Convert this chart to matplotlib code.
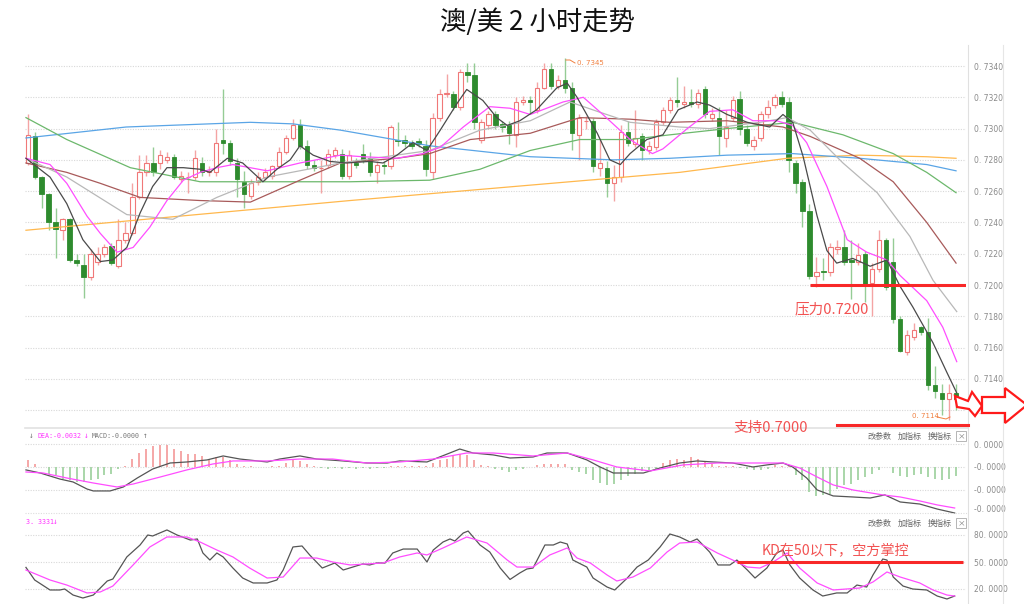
import matplotlib
matplotlib.use("Agg")
import matplotlib.pyplot as plt
from matplotlib.patches import Rectangle, Polygon

plt.rcParams['font.family'] = ['Noto Sans CJK SC', 'DejaVu Sans']

# ---------------- data ----------------
title = "澳/美 2 小时走势"

# candles: open, high, low, close (2-hour bars, index 0..133)
opens = [0.7278,0.7295,0.7269,0.7258,0.7240,0.7235,0.7242,0.7216,0.7213,0.7205,
         0.7215,0.7220,0.7225,0.7212,0.7229,0.7233,0.7256,0.7272,0.7278,0.7278,
         0.7280,0.7282,0.7268,0.7269,0.7269,0.7278,0.7272,0.7272,0.7293,0.7291,
         0.7278,0.7266,0.7257,0.7266,0.7269,0.7270,0.7276,0.7285,0.7294,0.7302,
         0.7289,0.7277,0.7275,0.7277,0.7283,0.7284,0.7270,0.7278,0.7284,0.7281,
         0.7272,0.7277,0.7276,0.7293,0.7293,0.7291,0.7292,0.7289,0.7272,0.7307,
         0.7322,0.7322,0.7314,0.7336,0.7334,0.7293,0.7302,0.7309,0.7303,0.7302,
         0.7296,0.7317,0.7318,0.7312,0.7326,0.7338,0.7327,0.7331,0.7326,0.7296,
         0.7305,0.7305,0.7275,0.7275,0.7265,0.7269,0.7298,0.7290,0.7295,0.7286,
         0.7288,0.7304,0.7312,0.7318,0.7316,0.7317,0.7316,0.7325,0.7307,0.7307,
         0.7294,0.7307,0.7319,0.7300,0.7289,0.7294,0.7309,0.7315,0.7320,0.7317,
         0.7278,0.7266,0.7247,0.7206,0.7209,0.7208,0.7223,0.7224,0.7216,0.7215,
         0.7220,0.7201,0.7210,0.7229,0.7215,0.7178,0.7157,0.7167,0.7173,0.7170,
         0.7136,0.7131,0.7127,0.7131]
highs = [0.7309,0.7298,0.7270,0.7259,0.7249,0.7243,0.7243,0.7220,0.7220,0.7223,
         0.7224,0.7226,0.7227,0.7242,0.7240,0.7265,0.7283,0.7283,0.7288,0.7286,
         0.7285,0.7284,0.7273,0.7272,0.7286,0.7282,0.7276,0.7300,0.7325,0.7293,
         0.7281,0.7273,0.7268,0.7272,0.7275,0.7277,0.7288,0.7296,0.7306,0.7306,
         0.7293,0.7280,0.7280,0.7287,0.7288,0.7287,0.7286,0.7281,0.7290,0.7285,
         0.7279,0.7279,0.7302,0.7304,0.7296,0.7293,0.7294,0.7293,0.7310,0.7325,
         0.7335,0.7324,0.7338,0.7342,0.7342,0.7306,0.7311,0.7311,0.7305,0.7305,
         0.7320,0.7321,0.7321,0.7330,0.7342,0.7342,0.7334,0.7345,0.7330,0.7309,
         0.7308,0.7307,0.7293,0.7279,0.7277,0.7302,0.7305,0.7312,0.7297,0.7292,
         0.7306,0.7314,0.7320,0.7333,0.7327,0.7325,0.7325,0.7327,0.7313,0.7314,
         0.7312,0.7321,0.7324,0.7302,0.7295,0.7311,0.7318,0.7322,0.7324,0.7320,
         0.7280,0.7268,0.7252,0.7218,0.7217,0.7227,0.7229,0.7235,0.7229,0.7227,
         0.7222,0.7214,0.7235,0.7230,0.7230,0.7180,0.7171,0.7176,0.7174,0.7179,
         0.7148,0.7137,0.7137,0.7137]
lows = [0.7277,0.7268,0.7249,0.7235,0.7217,0.7229,0.7215,0.7212,0.7192,0.7203,
        0.7213,0.7218,0.7213,0.7211,0.7227,0.7232,0.7255,0.7270,0.7270,0.7274,
        0.7278,0.7268,0.7266,0.7259,0.7267,0.7270,0.7270,0.7270,0.7284,0.7277,
        0.7256,0.7249,0.7255,0.7264,0.7267,0.7268,0.7275,0.7284,0.7293,0.7287,
        0.7274,0.7273,0.7259,0.7275,0.7281,0.7268,0.7268,0.7275,0.7278,0.7270,
        0.7265,0.7271,0.7274,0.7289,0.7288,0.7287,0.7288,0.7270,0.7268,0.7305,
        0.7320,0.7312,0.7312,0.7330,0.7300,0.7291,0.7300,0.7300,0.7298,0.7290,
        0.7288,0.7315,0.7310,0.7310,0.7325,0.7325,0.7325,0.7323,0.7286,0.7280,
        0.7300,0.7272,0.7270,0.7256,0.7254,0.7266,0.7289,0.7288,0.7280,0.7284,
        0.7286,0.7302,0.7310,0.7314,0.7313,0.7314,0.7313,0.7307,0.7305,0.7283,
        0.7288,0.7305,0.7296,0.7289,0.7286,0.7292,0.7307,0.7313,0.7314,0.7272,
        0.7259,0.7237,0.7204,0.7199,0.7203,0.7206,0.7220,0.7213,0.7191,0.7213,
        0.7189,0.7180,0.7208,0.7197,0.7176,0.7157,0.7155,0.7165,0.7168,0.7133,
        0.7128,0.7117,0.7114,0.7120]
closes = [0.7296,0.7269,0.7258,0.7240,0.7236,0.7242,0.7216,0.7214,0.7205,0.7220,
          0.7220,0.7224,0.7214,0.7229,0.7233,0.7256,0.7272,0.7278,0.7272,0.7283,
          0.7282,0.7269,0.7270,0.7269,0.7281,0.7272,0.7273,0.7291,0.7291,0.7279,
          0.7268,0.7258,0.7265,0.7269,0.7272,0.7276,0.7285,0.7294,0.7302,0.7289,
          0.7277,0.7275,0.7275,0.7284,0.7286,0.7270,0.7283,0.7277,0.7280,0.7272,
          0.7277,0.7276,0.7301,0.7292,0.7291,0.7289,0.7290,0.7274,0.7307,0.7322,
          0.7323,0.7314,0.7336,0.7334,0.7304,0.7304,0.7309,0.7302,0.7301,0.7297,
          0.7317,0.7318,0.7317,0.7326,0.7338,0.7327,0.7331,0.7326,0.7297,0.7307,
          0.7305,0.7276,0.7278,0.7265,0.7269,0.7298,0.7291,0.7294,0.7286,0.7289,
          0.7304,0.7312,0.7318,0.7317,0.7317,0.7316,0.7323,0.7309,0.7309,0.7295,
          0.7301,0.7318,0.7300,0.7291,0.7293,0.7309,0.7314,0.7320,0.7316,0.7280,
          0.7265,0.7247,0.7206,0.7208,0.7208,0.7224,0.7224,0.7215,0.7215,0.7219,
          0.7200,0.7210,0.7229,0.7199,0.7178,0.7158,0.7168,0.7171,0.7170,0.7136,
          0.7132,0.7127,0.7131,0.7127]

# moving averages: (bar index, price)
ma5 = [(-0.25,0.7281),(3.2,0.7269),(5.6,0.7252),(7.9,0.7229),(10.4,0.7215),(12.2,0.7216),
       (14.2,0.7224),(16.1,0.7246),(17.9,0.7263),(19.95,0.7275),(22.3,0.7275),(24.7,0.7274),
       (26.1,0.7272),(28.6,0.7281),(30.8,0.7278),(33.7,0.7266),(35.7,0.7274),(37.6,0.7280),
       (39,0.7289),(40.9,0.7283),(43.3,0.7279),(45.7,0.7278),(49,0.7279),(50.9,0.7278),
       (52.9,0.7283),(55.2,0.7291),(57.2,0.7286),(59.1,0.7299),(61.5,0.7316),(62.9,0.7325),
       (65.2,0.7318),(67.2,0.7307),(68.7,0.7302),(70.5,0.7305),(72.9,0.7312),(75.8,0.7326),
       (77.3,0.7329),(78.7,0.7320),(81.6,0.7297),(83.4,0.7280),(84.9,0.7277),(86.3,0.7284),
       (88.7,0.7293),(91,0.7296),(93.2,0.7312),(95.9,0.7317),(97.7,0.7315),(100.2,0.7309),
       (103.1,0.7304),(106.3,0.7301),(108.2,0.7309),(109.6,0.7304),(111.1,0.7282),(113.1,0.7244),
       (114.5,0.7222),(115.9,0.7214),(118.2,0.7217),(120.7,0.7212),(123.1,0.7216),(125,0.7199),
       (126.8,0.7186),(129.7,0.7163),(131.7,0.7144),(133.1,0.7131)]
ma10 = [(-0.25,0.7281),(3.2,0.7277),(5.6,0.7265),(8.5,0.7244),(10.4,0.7233),(12.8,0.7221),
        (15.1,0.7224),(17.5,0.7237),(19.95,0.7254),(22.3,0.7267),(24.7,0.7272),(27.1,0.7275),
        (29.4,0.7277),(34.3,0.7273),(39,0.7278),(44.8,0.7283),(48,0.7282),(52.9,0.7281),
        (56.6,0.7284),(59.1,0.7288),(62.4,0.7301),(66.2,0.7314),(69.1,0.7313),(72,0.7309),
        (76.7,0.7317),(79.6,0.7320),(82.4,0.7309),(86.3,0.7293),(89.5,0.7284),(91,0.7287),
        (94.5,0.7300),(97.7,0.7311),(101,0.7312),(103.9,0.7305),(107.3,0.7305),(109.6,0.7302),
        (111.6,0.7291),(114.5,0.7263),(117.4,0.7229),(120.2,0.7221),(123.1,0.7216),(125,0.7206),
        (128.8,0.7190),(131.1,0.7173),(133.1,0.7151)]
ma20 = [(-0.25,0.7281),(5.6,0.7269),(14.2,0.7245),(20.8,0.7242),(27.1,0.7256),(34.3,0.7269),
        (44.8,0.7278),(57.6,0.7286),(64.8,0.7299),(72,0.7305),(77.7,0.7317),(81.6,0.7311),
        (86.3,0.7304),(93.4,0.7301),(97.7,0.7300),(104.9,0.7304),(108.8,0.7307),(112.1,0.7299),
        (116.8,0.7278),(121.7,0.7259),(126.4,0.7231),(129.7,0.7203),(133.1,0.7183)]
ma30 = [(-0.25,0.7278),(5.6,0.7272),(10.4,0.7265),(16.1,0.7256),(24.7,0.7254),(31.9,0.7253),
        (39,0.7267),(44.8,0.7278),(52.9,0.7281),(57.6,0.7284),(63.4,0.7293),(72,0.7297),
        (79.1,0.7307),(86.3,0.7306),(92,0.7304),(100.2,0.7305),(108.2,0.7301),(112.1,0.7295),
        (119.2,0.7281),(124,0.7266),(128.8,0.7240),(133,0.7214)]
ma60 = [(-0.25,0.7307),(5.6,0.7293),(14.7,0.7275),(24.7,0.7266),(46.2,0.7266),(57.6,0.7267),
        (64.8,0.7274),(72,0.7286),(79.1,0.7293),(86.3,0.7293),(92,0.7296),(100.2,0.7300),
        (109.6,0.7304),(116.8,0.7296),(124,0.7284),(128.8,0.7272),(133,0.7259)]
ma120 = [(-0.25,0.7294),(14.1,0.7301),(31.9,0.7304),(38,0.7303),(44.8,0.7299),(57.6,0.7289),
         (72,0.7282),(83.9,0.7280),(92,0.7281),(100.2,0.7283),(109.6,0.7284),(119.2,0.7281),
         (128.8,0.7277),(133,0.7273)]
ma250 = [(-0.25,0.7235),(46.2,0.7254),(93.4,0.7272),(108.8,0.7281),(119.2,0.7283),
         (128.8,0.7282),(133,0.7281)]

# MACD (units of 1e-4)
macd_hist = [5.5,2.7,0.0,-5.1,-6.2,-9.0,-10.1,-11.7,-11.7,-10.1,
             -9.0,-6.0,-5.1,-1.2,0.8,5.9,10.9,14.4,16.0,16.8,
             16.8,14.4,12.5,10.5,10.5,8.2,6.2,7.8,7.8,5.5,
             2.7,0.8,0.4,-0.4,-0.4,0.4,0.8,3.1,5.9,4.7,
             2.3,0.8,-0.8,-1.2,-0.8,-1.2,-0.8,-1.2,-0.8,-1.2,
             -0.8,-0.8,0.4,0.8,0.8,0.8,0.8,0.8,3.1,5.1,
             5.9,8.2,10.5,9.4,5.1,1.6,0.4,-1.2,-2.0,-3.9,
             -2.7,-1.2,-0.4,1.2,2.7,2.7,2.7,2.0,-2.0,-3.9,
             -5.1,-10.1,-12.5,-14.0,-12.9,-9.8,-7.0,-5.1,-3.5,-2.7,
             -2.0,3.1,5.1,5.9,5.1,7.4,6.6,3.9,2.7,0.8,
             0.8,0.4,-0.8,-1.2,-2.7,-2.0,-1.2,1.2,0.8,0.4,
             -6.2,-10.1,-19.5,-22.6,-21.8,-20.7,-16.8,-14.0,-12.9,-9.8,
             -7.8,-5.1,-2.0,-0.4,-4.7,-7.0,-7.8,-6.2,-5.1,-7.8,
             -9.0,-9.8,-9.0,-7.0]
macd_dif = [(-0.25,-2.3),(1.8,-4.7),(4.6,-9.4),(6.5,-11.7),(8.5,-17.2),(9.4,-18.7),(11.8,-18.7),
            (13.7,-15.6),(15.7,-8.6),(17.9,-1.6),(20.4,3.1),(22.8,3.9),(25.7,5.5),(28,8.6),
            (30.4,6.2),(34.3,3.9),(36.1,6.2),(39,8.6),(41.4,6.2),(45.2,4.7),(48.6,3.1),(51.5,3.1),
            (53.3,4.7),(57.2,3.9),(60.1,10.1),(61.9,14.0),(63.8,10.9),(66.7,9.4),(69.1,7.0),
            (72.4,7.8),(74.4,10.9),(77.3,10.9),(80.1,5.5),(82,0),(83.9,-4.7),(85.9,-4.7),(88.2,-4.7),
            (90.6,-0.8),(93.4,3.1),(95.9,4.7),(98.2,3.9),(101,3.1),(103.9,0),(105.9,1.6),(108.2,3.1),
            (109.6,0),(111.6,-8.6),(113.1,-17.9),(115.4,-22.6),(118.2,-23.4),(120.7,-24.2),
            (122.8,-21.8),(125,-27.3),(127.8,-28.9),(130.3,-32.8),(132.8,-35.9)]
macd_dea = [(-0.25,-3.9),(2.2,-4.7),(5.6,-8.6),(9.4,-12.5),(12.8,-15.6),(15.1,-13.3),(19,-7.8),
            (22.8,-2.3),(26.5,2.3),(29.4,4.7),(34.3,4.7),(39,6.2),(43.7,6.2),(48.6,3.1),(53.3,3.9),
            (58.1,6.2),(62.9,10.9),(66.7,10.9),(70.5,9.4),(72.4,8.6),(77.3,10.9),(81,5.5),(84.4,0),
            (89.2,-3.1),(93.9,1.6),(98.8,3.1),(103.5,3.1),(108.2,3.1),(110.6,-0.8),(113.1,-7.8),
            (115.4,-14.0),(118.2,-17.9),(122.5,-21.8),(125,-23.4),(127.8,-26.5),(130.3,-29.6),
            (132.8,-32.0)]
macd_ticks = [17.9, 0.0, -17.9, -32.0]
macd_ticklabels = ["0. 0000", "-0. 0000", "-0. 0000", "-0. 0000"]

# KD
kd_k = [(-0.25,44),(1,30),(3.2,18.9),(4.6,18.9),(5.3,20),(6.5,13.3),(7.9,10),(9.4,13.3),(11.4,28.9),
        (12.2,31.1),(14.2,55.6),(16.1,68.9),(17.2,80),(17.9,78.9),(19.95,85.6),(21.4,80),(23.3,74.4),
        (24.3,75.6),(25.1,60),(26.1,52.2),(27.1,60),(28,55.6),(29.4,43.3),(30.8,32.2),(32.3,26.7),
        (34.3,26.7),(35.7,30),(36.6,41.1),(38,66.7),(39.3,67.8),(40.4,57.8),(42.2,43.3),(44,48.9),
        (45.2,41.1),(48,47.8),(49,46.7),(50,48.9),(51.2,48.9),(52.3,60),(53.8,64.4),(55.8,64.4),
        (57.2,50),(58.1,63.3),(59.5,72.2),(60.5,75.6),(61.2,73.3),(62.4,82.2),(63.1,84.4),(64.8,68.9),
        (66.2,61.1),(67.7,43.3),(69.1,30.6),(70.5,37.8),(71.5,42.2),(72.4,43.3),(74.1,68.9),
        (75.3,68.9),(76.3,72.2),(77.3,70),(78.1,52.2),(80.1,44.4),(81,32.2),(83,22.2),(84.1,18.9),
        (85.9,32.2),(87.3,44.4),(88.9,52.2),(90.6,66.7),(92,81.1),(93.4,77.8),(94.9,72.2),(95.9,75.6),
        (97.7,61.1),(98.9,46.7),(100.6,46.7),(101.6,52.2),(103.1,41.1),(104.2,32.2),(105.9,43.3),
        (107.3,60),(108.2,63.3),(109.2,46.7),(110.6,32.2),(112.5,18.9),(113.9,12.2),(115.9,15.6),
        (117.4,15.6),(118.8,24.4),(120.2,22.2),(121.1,35.6),(122.5,53.3),(123.1,52.2),(124,33.3),
        (125.4,23.3),(126.8,20),(128.8,18.9),(130.3,12.2),(131.7,8.9),(132.8,12.2)]
kd_d = [(-0.25,41.1),(3.2,30),(5.6,24.4),(8.5,15.6),(10.4,16.7),(12.2,23.3),(15.1,46.7),(17.5,66.7),
        (19.95,77.8),(22.8,77.8),(24.7,72.2),(27.1,63.3),(29.4,55.6),(31.8,43.3),(34.3,32.2),
        (36.6,33.3),(39,54.4),(41.4,54.4),(43.7,50),(46.2,46.7),(50.9,48.9),(53.3,55.6),(55.8,60),
        (57.2,57.8),(59.5,65.6),(62.9,77.8),(65.8,71.1),(68.7,52.2),(70.1,44.4),(72.4,44.4),
        (74.8,57.8),(77.3,65.6),(78.7,54.4),(80.6,48.9),(83,35.6),(84.4,28.9),(86.7,33.3),(89.2,43.3),
        (91.6,61.1),(93.4,71.1),(95.9,72.2),(98.8,60),(101,52.2),(103.1,44.4),(104.9,43.3),
        (106.8,50),(108.8,60),(110.6,43.3),(113.1,26.7),(115.4,18.9),(119.2,21.1),(121.1,27.8),
        (123.1,38.9),(125,33.3),(127.8,26.7),(129.7,18.9),(131.7,13.3),(132.8,12.2)]
kd_ticks = [80, 50, 20]
kd_ticklabels = ["80. 0000", "50. 0000", "20. 0000"]

price_ticks = [0.7120, 0.7140, 0.7160, 0.7180, 0.7200, 0.7220, 0.7240, 0.7260, 0.7280, 0.7300, 0.7320, 0.7340]
resistance = 0.7200
kd_level = 50
high_label = "0. 7345"
low_label = "0. 7114"
resist_text = "压力0.7200"
support_text = "支持0.7000"
kd_text = "KD在50以下，空方掌控"

# ---------------- figure ----------------
W, H = 1024, 604
fig = plt.figure(figsize=(W / 100, H / 100), dpi=100)
fig.patch.set_facecolor('white')

def ax_px(x0, y0, x1, y1):
    return fig.add_axes([x0 / W, 1 - y1 / H, (x1 - x0) / W, (y1 - y0) / H])

X0, DX = 27.7, 6.98
xl = ((25 - X0) / DX, (966 - X0) / DX)

ax = ax_px(25, 45, 966, 428)
mx = ax_px(25, 428, 966, 513)
kx = ax_px(25, 513, 966, 604)

grid_kw = dict(color='#d8d8d8', ls=(0, (1, 1.3)), lw=0.8)
lab_font = ['Liberation Sans Narrow', 'DejaVu Sans']
for a in (ax, mx, kx):
    a.set_xlim(*xl)
    a.set_xticks([])
    for s in a.spines.values():
        s.set_visible(False)
    a.yaxis.tick_right()
    a.tick_params(axis='y', length=0, pad=6, labelsize=5.5, labelcolor='#8a8a8a')
    a.patch.set_alpha(0)

# ---- price panel ----
ax.set_ylim(0.7340 - 362 / 15643, 0.7340 + 21 / 15643)
ax.set_yticks(price_ticks)
ax.set_yticklabels(["0. %d" % round(v * 10000) for v in price_ticks], family=lab_font)
for v in price_ticks:
    ax.axhline(v, zorder=0, **grid_kw)

up_edge, up_wick = '#f07878', '#f4a4a4'
dn_body, dn_wick = '#2e8b2e', '#95cc95'
bw = 0.62
for i, (o, h, l, c) in enumerate(zip(opens, highs, lows, closes)):
    up = c >= o
    ax.vlines(i, l, h, color=up_wick if up else dn_wick, lw=1.0, zorder=2)
    bot, ht = min(o, c), abs(c - o)
    if up:
        ax.add_patch(Rectangle((i - bw / 2, bot), bw, ht, fc='white', ec=up_edge, lw=0.8, zorder=2.5))
    else:
        ax.add_patch(Rectangle((i - bw / 2, bot), bw, ht, fc=dn_body, ec=dn_body, lw=0.6, zorder=2.5))

ma_styles = [(ma250, '#ffb84d'), (ma120, '#5aa5e6'), (ma60, '#6cb86c'), (ma30, '#a85a5a'),
             (ma20, '#b8b8b8'), (ma10, '#ff4dff'), (ma5, '#4a4a4a')]
for series, col in ma_styles:
    ax.plot([p[0] for p in series], [p[1] for p in series], color=col, lw=0.9, zorder=3)

ax.hlines(resistance, (810 - X0) / DX, (966 - X0) / DX, color='#f82828', lw=2.2, zorder=4)

# ---- MACD panel ----
mx.set_ylim(-35.9, 30.4)
mx.set_yticks(macd_ticks)
mx.set_yticklabels(macd_ticklabels, family=lab_font)
for v in macd_ticks[:3]:
    mx.axhline(v, zorder=0, **grid_kw)
for i, v in enumerate(macd_hist):
    mx.vlines(i, 0, v, color='#f4a0a0' if v >= 0 else '#a3d3a3', lw=1.3, zorder=1)
mx.plot([p[0] for p in macd_dif], [p[1] for p in macd_dif], color='#555555', lw=0.9, zorder=3, clip_on=False)
mx.plot([p[0] for p in macd_dea], [p[1] for p in macd_dea], color='#ff4dff', lw=0.9, zorder=3)

# ---- KD panel ----
kx.set_ylim(50 - 42 / 0.9, 50 + 49 / 0.9)
kx.set_yticks(kd_ticks)
kx.set_yticklabels(kd_ticklabels, family=lab_font)
for v in kd_ticks:
    kx.axhline(v, zorder=0, **grid_kw)
kx.plot([p[0] for p in kd_k], [p[1] for p in kd_k], color='#555555', lw=0.9, zorder=3)
kx.plot([p[0] for p in kd_d], [p[1] for p in kd_d], color='#ff4dff', lw=0.9, zorder=3)
kx.hlines(kd_level, (737 - X0) / DX, (963 - X0) / DX, color='#f82828', lw=2.2, zorder=4)

# ---- overlay in pixel coordinates ----
ov = fig.add_axes([0, 0, 1, 1])
ov.set_xlim(0, W)
ov.set_ylim(H, 0)
ov.axis('off')
ov.patch.set_alpha(0)

ov.text(538, 22, title, ha='center', va='center', fontsize=19, color='#111111')

# frame lines
ov.plot([25, 968], [428, 428], color='#e2e2e2', lw=1.2)
ov.plot([25, 968], [513, 513], color='#dddddd', lw=0.8, ls=(0, (1, 1.3)))
ov.plot([968, 968], [45, 604], color='#e0e0e0', lw=0.8)
ov.plot([1003, 1003], [45, 604], color='#e6e6e6', lw=0.8)

# high / low markers
ov.plot([566, 570, 575], [60, 60, 63], color='#f08040', lw=0.7)
ov.text(577, 63, high_label, fontsize=5, color='#f08040', va='center', family=lab_font)
ov.plot([937, 946, 950], [417, 419, 417], color='#f08040', lw=0.7)
ov.text(912, 416, low_label, fontsize=5, color='#f08040', va='center', family=lab_font)

# annotations
ann_col = '#f25252'
ov.text(795, 309, resist_text, fontsize=10.5, color=ann_col, va='center')
ov.text(733, 428, support_text, fontsize=10.5, color=ann_col, va='center')
ov.plot([837, 968], [425, 425], color='#f82828', lw=2.2)
ov.text(762, 551, kd_text, fontsize=10.2, color=ann_col, va='center')

# arrows
ov.add_patch(Polygon([(955, 396), (968, 401), (972, 392), (982, 406), (975, 416), (969, 409), (957, 407)],
                     closed=True, fc='white', ec='#ff1a1a', lw=1.6, zorder=5))
ov.add_patch(Polygon([(982, 397), (1005, 397), (1005, 388), (1027, 405), (1005, 423), (1005, 413), (982, 413)],
                     closed=True, fc='white', ec='#ff1a1a', lw=1.6, zorder=5, clip_on=False))

# indicator headers
mono = ['DejaVu Sans Mono', 'Noto Sans CJK SC']
ov.text(29, 436, "↓", fontsize=5.5, color='#777777', va='center', family=mono)
ov.text(37, 436, "DEA:-0.0032", fontsize=4.8, color='#ff33ff', va='center', family=mono)
ov.text(84, 436, "↓", fontsize=5.5, color='#ff33ff', va='center', family=mono)
ov.text(92, 436, "MACD:-0.0000", fontsize=4.8, color='#777777', va='center', family=mono)
ov.text(143, 436, "↑", fontsize=5.5, color='#777777', va='center', family=mono)
ov.text(26, 522, "3. 3331", fontsize=4.8, color='#ff33ff', va='center', family=mono)
ov.text(53, 522, "↓", fontsize=5.5, color='#ff33ff', va='center', family=mono)

for yy in (436, 523):
    for xx, t in ((868, "改参数"), (898, "加指标"), (928, "换指标")):
        ov.text(xx, yy, t, fontsize=5.8, color='#666666', va='center')
    ov.text(961, yy, "×", fontsize=5.5, color='#777777', ha='center', va='center',
            bbox=dict(boxstyle='square,pad=0.15', fc='white', ec='#aaaaaa', lw=0.6))

fig.savefig("out.png", dpi=100)
